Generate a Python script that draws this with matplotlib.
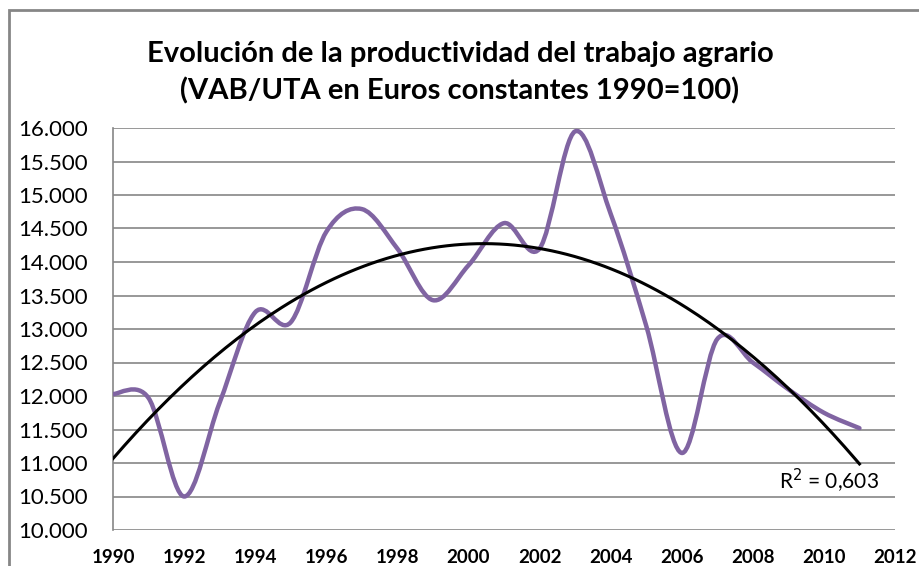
import numpy as np
import matplotlib
matplotlib.use('Agg')
import matplotlib.pyplot as plt
from matplotlib.path import Path
from matplotlib.patches import PathPatch, Rectangle

years = [1990, 1991, 1992, 1993, 1994, 1995, 1996, 1997, 1998, 1999, 2000,
         2001, 2002, 2003, 2004, 2005, 2006, 2007, 2008, 2009, 2010, 2011]
vab_uta = [12030, 11970, 10500, 11900, 13250, 13100, 14450, 14790, 14200, 13430, 13950,
           14580, 14200, 15950, 14720, 13050, 11150, 12850, 12500, 12100, 11750, 11520]
y_ticks = list(range(10000, 16001, 500))
x_ticks = list(range(1990, 2013, 2))
title = 'Evolución de la productividad del trabajo agrario\n(VAB/UTA en Euros constantes 1990=100)'
r2_label = 'R$^2$ = 0,603'

purple = '#8064A2'
grid_gray = '#868686'

fig = plt.figure(figsize=(9.2, 5.66), dpi=100)
ax = fig.add_axes([113 / 920, 1 - 530 / 566, (895 - 113) / 920, (530 - 128) / 566])

# smoothed line like excel (catmull-rom as cubic bezier)
x = np.array(years, dtype=float)
y = np.array(vab_uta, dtype=float)
px = np.concatenate([[x[0]], x, [x[-1]]])
py = np.concatenate([[y[0]], y, [y[-1]]])
verts = [(x[0], y[0])]
codes = [Path.MOVETO]
for i in range(1, len(px) - 2):
    c1 = (px[i] + (px[i + 1] - px[i - 1]) / 6, py[i] + (py[i + 1] - py[i - 1]) / 6)
    c2 = (px[i + 1] - (px[i + 2] - px[i]) / 6, py[i + 1] - (py[i + 2] - py[i]) / 6)
    verts += [c1, c2, (px[i + 1], py[i + 1])]
    codes += [Path.CURVE4] * 3
ax.add_patch(PathPatch(Path(verts, codes), facecolor='none', edgecolor=purple,
                       lw=3.2, capstyle='round', joinstyle='round', zorder=3))

# polynomial trend (order 2)
coef = np.polyfit(x - 1989, y, 2)
xt = np.linspace(x[0], x[-1], 200)
ax.plot(xt, np.polyval(coef, xt - 1989), color='black', lw=2.2, zorder=4)
ax.text(2011.55, 10730, r2_label, ha='right', va='center', fontsize=15,
        family='Lato', zorder=5)

ax.set_xlim(1990, 2012)
ax.set_ylim(10000, 16000)
ax.set_yticks(y_ticks)
ax.set_yticklabels([f'{v:,}'.replace(',', '.') for v in y_ticks], family='Lato', fontsize=16)
ax.set_xticks(x_ticks)
ax.set_xticklabels([str(v) for v in x_ticks], family='Lato', fontsize=13.5, fontweight='bold')
ax.tick_params(axis='both', length=0)
ax.tick_params(axis='y', pad=18)
ax.tick_params(axis='x', pad=13.5)
ax.yaxis.grid(True, color=grid_gray, lw=1.2)
ax.set_axisbelow(True)
for s in ['top', 'right', 'bottom']:
    ax.spines[s].set_visible(False)
ax.spines['left'].set_color(grid_gray)
ax.spines['left'].set_linewidth(1.2)

fig.text(0.5, 1 - 73 / 566, title, ha='center', va='center', fontsize=21,
         family='Lato', fontweight='bold', linespacing=1.45)

# outer chart frame, cut off at right and bottom
fig.patches.append(Rectangle((9 / 920, -0.2), 1.5, 1.2 - 10 / 566, transform=fig.transFigure,
                             fill=False, edgecolor=grid_gray, lw=2))

plt.savefig('out.png', dpi=100)
